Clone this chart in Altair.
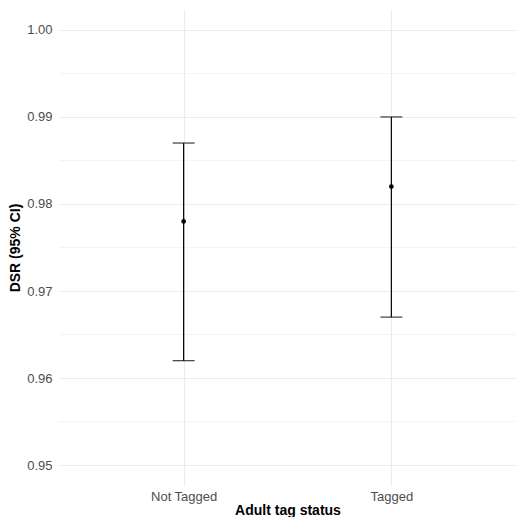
import altair as alt
import pandas as pd

categories = ["Not Tagged", "Tagged"]
dsr = [0.978, 0.982]
lower = [0.962, 0.967]
upper = [0.987, 0.990]
y_ticks = [0.95, 0.96, 0.97, 0.98, 0.99, 1.00]
minor_ticks = [0.955, 0.965, 0.975, 0.985, 0.995]

df = pd.DataFrame({"status": categories, "dsr": dsr, "lower": lower, "upper": upper})
minor_df = pd.DataFrame({"v": minor_ticks})

FONT = "Liberation Sans"
ydom = [0.9476, 1.0024]

x_enc = alt.X("status:N", scale=alt.Scale(type="point", padding=0.6, domain=categories),
              axis=alt.Axis(title="Adult tag status", labelAngle=0, grid=True,
                            labelPadding=4, titlePadding=0))
y_scale = alt.Scale(domain=ydom, nice=False, zero=False)

minor = alt.Chart(minor_df).mark_rule(color="#ececec", strokeWidth=0.6).encode(
    y=alt.Y("v:Q", scale=y_scale)
)

rule = alt.Chart(df).mark_rule(color="black", strokeWidth=1.2).encode(
    x=x_enc,
    y=alt.Y("lower:Q", scale=y_scale,
            axis=alt.Axis(title="DSR (95% CI)", values=y_ticks, format=".2f",
                          labelPadding=7, titlePadding=4)),
    y2="upper:Q",
)
cap_lo = alt.Chart(df).mark_tick(color="black", size=22, thickness=1.3).encode(
    x=x_enc, y=alt.Y("lower:Q", scale=y_scale)
)
cap_hi = alt.Chart(df).mark_tick(color="black", size=22, thickness=1.3).encode(
    x=x_enc, y=alt.Y("upper:Q", scale=y_scale)
)
pts = alt.Chart(df).mark_point(filled=True, color="black", size=22, opacity=1).encode(
    x=x_enc, y=alt.Y("dsr:Q", scale=y_scale)
)

chart = alt.layer(minor, rule, cap_lo, cap_hi, pts).properties(
    width=457, height=477, padding={"left": 0, "top": 1, "right": 0, "bottom": 0}
).configure_view(stroke=None).configure_axis(
    domain=False, ticks=False, gridColor="#ebebeb", gridWidth=1,
    labelColor="#4d4d4d", labelFontSize=13, labelFont=FONT,
    titleFont=FONT, titleFontSize=14, titleFontWeight="bold", titleColor="black",
)

chart.save("out.html", embed_options={"renderer": "svg", "actions": False})
